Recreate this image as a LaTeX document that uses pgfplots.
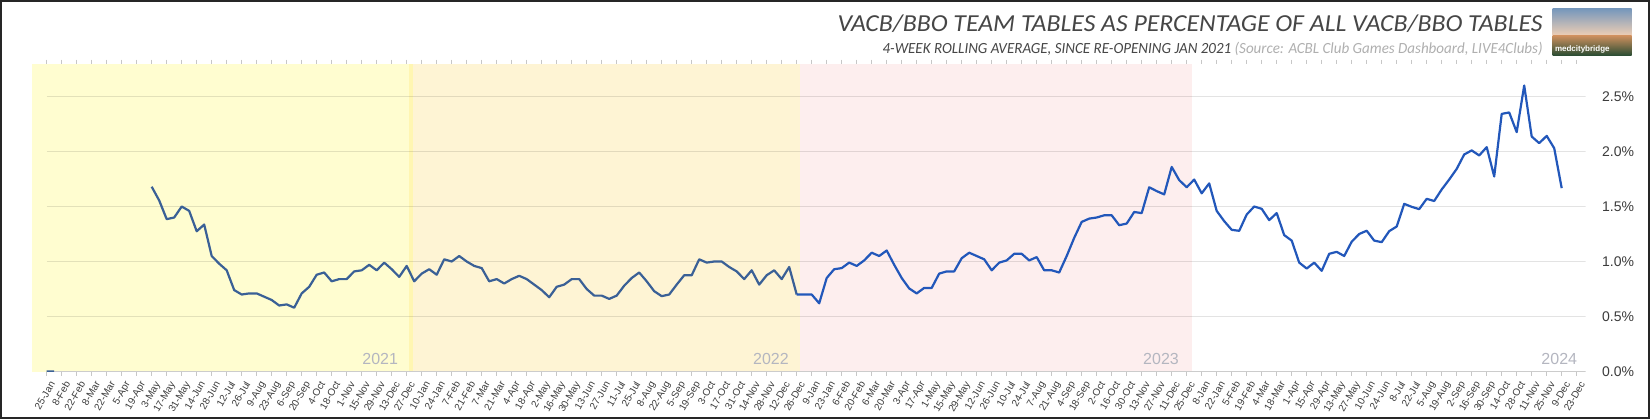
\documentclass[border=0pt]{standalone}
\usepackage{graphicx}
\usepackage{pgfplots}
\pgfplotsset{compat=1.18}
\usepackage{fontspec}
\setmainfont{Liberation Sans}
\newfontfamily\calfont{Carlito}
\definecolor{lineblue}{RGB}{34,87,186}
\definecolor{lineold}{RGB}{58,96,150}
\definecolor{y21}{RGB}{255,253,208}
\definecolor{y22}{RGB}{254,244,212}
\definecolor{y23}{RGB}{253,238,238}
\definecolor{ystrip}{RGB}{255,246,178}
\definecolor{yearc}{RGB}{180,182,192}
\definecolor{labc}{RGB}{60,60,60}
\definecolor{titlec}{RGB}{70,70,70}
\definecolor{subc}{RGB}{70,70,70}
\definecolor{srcc}{RGB}{175,175,175}
\begin{document}
\begin{tikzpicture}
\useasboundingbox (0,0) rectangle (825pt,209.5pt);
\fill[white] (0,0) rectangle (825pt,209.5pt);
\begin{axis}[
  at={(15.85pt,23.75pt)}, anchor=south west,
  scale only axis, width=777pt, height=154pt,
  xmin=-2, xmax=205.2, ymin=0, ymax=2.8,
  axis line style={draw=none},
  tick align=outside, major tick length=2pt,
  xtick={0,2,...,204},
  xticklabels={25-Jan,8-Feb,22-Feb,8-Mar,22-Mar,5-Apr,19-Apr,3-May,17-May,31-May,14-Jun,28-Jun,12-Jul,26-Jul,9-Aug,23-Aug,6-Sep,20-Sep,4-Oct,18-Oct,1-Nov,15-Nov,29-Nov,13-Dec,27-Dec,
  10-Jan,24-Jan,7-Feb,21-Feb,7-Mar,21-Mar,4-Apr,18-Apr,2-May,16-May,30-May,13-Jun,27-Jun,11-Jul,25-Jul,8-Aug,22-Aug,5-Sep,19-Sep,3-Oct,17-Oct,31-Oct,14-Nov,28-Nov,12-Dec,26-Dec,
  9-Jan,23-Jan,6-Feb,20-Feb,6-Mar,20-Mar,3-Apr,17-Apr,1-May,15-May,29-May,12-Jun,26-Jun,10-Jul,24-Jul,7-Aug,21-Aug,4-Sep,18-Sep,2-Oct,16-Oct,30-Oct,13-Nov,27-Nov,11-Dec,25-Dec,
  8-Jan,22-Jan,5-Feb,19-Feb,4-Mar,18-Mar,1-Apr,15-Apr,29-Apr,13-May,27-May,10-Jun,24-Jun,8-Jul,22-Jul,5-Aug,19-Aug,2-Sep,16-Sep,30-Sep,14-Oct,28-Oct,11-Nov,25-Nov,9-Dec,23-Dec},
  xtick style={draw=black!22, line width=0.5pt},
  xticklabel style={xshift=1.3pt, yshift=-2.25pt, rotate=60, anchor=north east, inner sep=0pt, font=\fontsize{5}{6}\selectfont, text=labc},
  ytick={0,0.5,1,1.5,2,2.5}, ytick style={draw=none},
  yticklabel pos=right,
  yticklabel={\pgfmathprintnumber[fixed,fixed zerofill,precision=1]{\tick}\%},
  yticklabel style={anchor=west, inner sep=0pt, xshift=6pt, font=\fontsize{7}{8}\selectfont, text=labc},
  /pgf/number format/assume math mode=true,
]
% year bands
\addplot[fill=y21, draw=none] coordinates {(-2,2.8) (48.9,2.8)} \closedcycle;
\addplot[fill=ystrip, draw=none] coordinates {(48.35,2.8) (48.9,2.8)} \closedcycle;
\addplot[fill=y22, draw=none] coordinates {(48.9,2.8) (100.5,2.8)} \closedcycle;
\addplot[fill=y23, draw=none] coordinates {(100.5,2.8) (152.7,2.8)} \closedcycle;
% grid
\pgfplotsinvokeforeach{0.5,1,1.5,2,2.5}{\draw[black, opacity=0.11, line width=0.55pt] (axis cs:0,#1) -- (axis cs:205.2,#1);}
\draw[black!20, line width=0.55pt] (axis cs:0,0) -- (axis cs:205.2,0);
% year labels
\node[anchor=base east, inner sep=0pt, text=yearc, font=\fontsize{8}{9}\selectfont] at (axis cs:46.9,0.068) {2021};
\node[anchor=base east, inner sep=0pt, text=yearc, font=\fontsize{8}{9}\selectfont] at (axis cs:99.0,0.068) {2022};
\node[anchor=base east, inner sep=0pt, text=yearc, font=\fontsize{8}{9}\selectfont] at (axis cs:151.0,0.068) {2023};
\node[anchor=base east, inner sep=0pt, text=yearc, font=\fontsize{8}{9}\selectfont] at (axis cs:204.1,0.068) {2024};
% data 2021-2022
\addplot[lineold, line width=1.1pt, unbounded coords=jump, line join=round] coordinates {
(0,0) (1,0) (2,nan)
(14,1.68) (15,1.555) (16,1.385) (17,1.40) (18,1.50) (19,1.46) (20,1.275) (21,1.336) (22,1.05) (23,0.98)
(24,0.92) (25,0.74) (26,0.70) (27,0.71) (28,0.71) (29,0.68) (30,0.65) (31,0.60) (32,0.61) (33,0.58)
(34,0.71) (35,0.77) (36,0.88) (37,0.90) (38,0.82) (39,0.84) (40,0.84) (41,0.91) (42,0.92) (43,0.97)
(44,0.92) (45,0.99) (46,0.93) (47,0.86) (48,0.96) (49,0.82) (50,0.89) (51,0.93) (52,0.88) (53,1.02)
(54,1.00) (55,1.05) (56,1.00) (57,0.96) (58,0.94) (59,0.82) (60,0.84) (61,0.80) (62,0.84) (63,0.87)
(64,0.84) (65,0.79) (66,0.74) (67,0.675) (68,0.77) (69,0.79) (70,0.84) (71,0.84) (72,0.75) (73,0.69)
(74,0.69) (75,0.66) (76,0.69) (77,0.78) (78,0.85) (79,0.90) (80,0.82) (81,0.73) (82,0.685) (83,0.70)
(84,0.79) (85,0.875) (86,0.875) (87,1.02) (88,0.99) (89,1.00) (90,1.00) (91,0.95) (92,0.91) (93,0.84)
(94,0.92) (95,0.79) (96,0.875) (97,0.92) (98,0.84) (99,0.95) (100,0.70)
};
% data 2023-2024
\addplot[lineblue, line width=1.1pt, line join=round] coordinates {
(100,0.70) (101,0.70) (102,0.70) (103,0.62)
(104,0.85) (105,0.93) (106,0.94) (107,0.99) (108,0.96) (109,1.01) (110,1.08) (111,1.05) (112,1.10) (113,0.97)
(114,0.85) (115,0.755) (116,0.71) (117,0.76) (118,0.76) (119,0.89) (120,0.91) (121,0.91) (122,1.03) (123,1.08)
(124,1.05) (125,1.02) (126,0.92) (127,0.99) (128,1.01) (129,1.07) (130,1.07) (131,1.01) (132,1.04) (133,0.92)
(134,0.92) (135,0.90) (136,1.05) (137,1.215) (138,1.36) (139,1.39) (140,1.40) (141,1.42) (142,1.42) (143,1.33)
(144,1.345) (145,1.45) (146,1.44) (147,1.675) (148,1.64) (149,1.61) (150,1.86) (151,1.74) (152,1.675) (153,1.745)
(154,1.62) (155,1.71) (156,1.46) (157,1.367) (158,1.288) (159,1.279) (160,1.427) (161,1.50) (162,1.479) (163,1.376)
(164,1.44) (165,1.24) (166,1.19) (167,0.99) (168,0.936) (169,0.99) (170,0.915) (171,1.07) (172,1.088) (173,1.05)
(174,1.18) (175,1.25) (176,1.28) (177,1.19) (178,1.176) (179,1.276) (180,1.318) (181,1.524) (182,1.497) (183,1.476)
(184,1.57) (185,1.55) (186,1.655) (187,1.745) (188,1.842) (189,1.973) (190,2.01) (191,1.964) (192,2.04) (193,1.773)
(194,2.342) (195,2.355) (196,2.176) (197,2.60) (198,2.136) (199,2.076) (200,2.142) (201,2.03) (202,1.667)
};
\end{axis}
% title and subtitle
\node[anchor=base east, inner sep=0pt, text=titlec] at (771.5pt,193.65pt)
  {\resizebox{352.5pt}{\height}{\calfont\itshape\fontsize{12.2}{14}\selectfont VACB/BBO TEAM TABLES AS PERCENTAGE OF ALL VACB/BBO TABLES}};
\node[anchor=base east, inner sep=0pt] at (771.5pt,182.85pt)
  {\resizebox{330pt}{\height}{\calfont\itshape\fontsize{7.75}{9}\selectfont\textcolor{subc}{4-WEEK ROLLING AVERAGE, SINCE RE-OPENING JAN 2021} \textcolor{srcc}{(Source: ACBL Club Games Dashboard, LIVE4Clubs)}}};
% logo
\shade[top color={rgb,255:red,115;green,150;blue,188}, bottom color={rgb,255:red,236;green,205;blue,180}] (776.35pt,192pt) rectangle (815.85pt,205.5pt);
\shade[top color={rgb,255:red,210;green,145;blue,95}, bottom color={rgb,255:red,45;green,78;blue,52}] (776.35pt,182pt) rectangle (815.85pt,192pt);
\node[anchor=base west, inner sep=0pt, text=white, font=\fontsize{4}{5}\selectfont\bfseries] at (777.3pt,184pt) {medcitybridge};
% frame
\draw[line width=1.1pt, black!85] (0.55pt,0.55pt) rectangle (824.45pt,208.95pt);
\end{tikzpicture}
\end{document}
